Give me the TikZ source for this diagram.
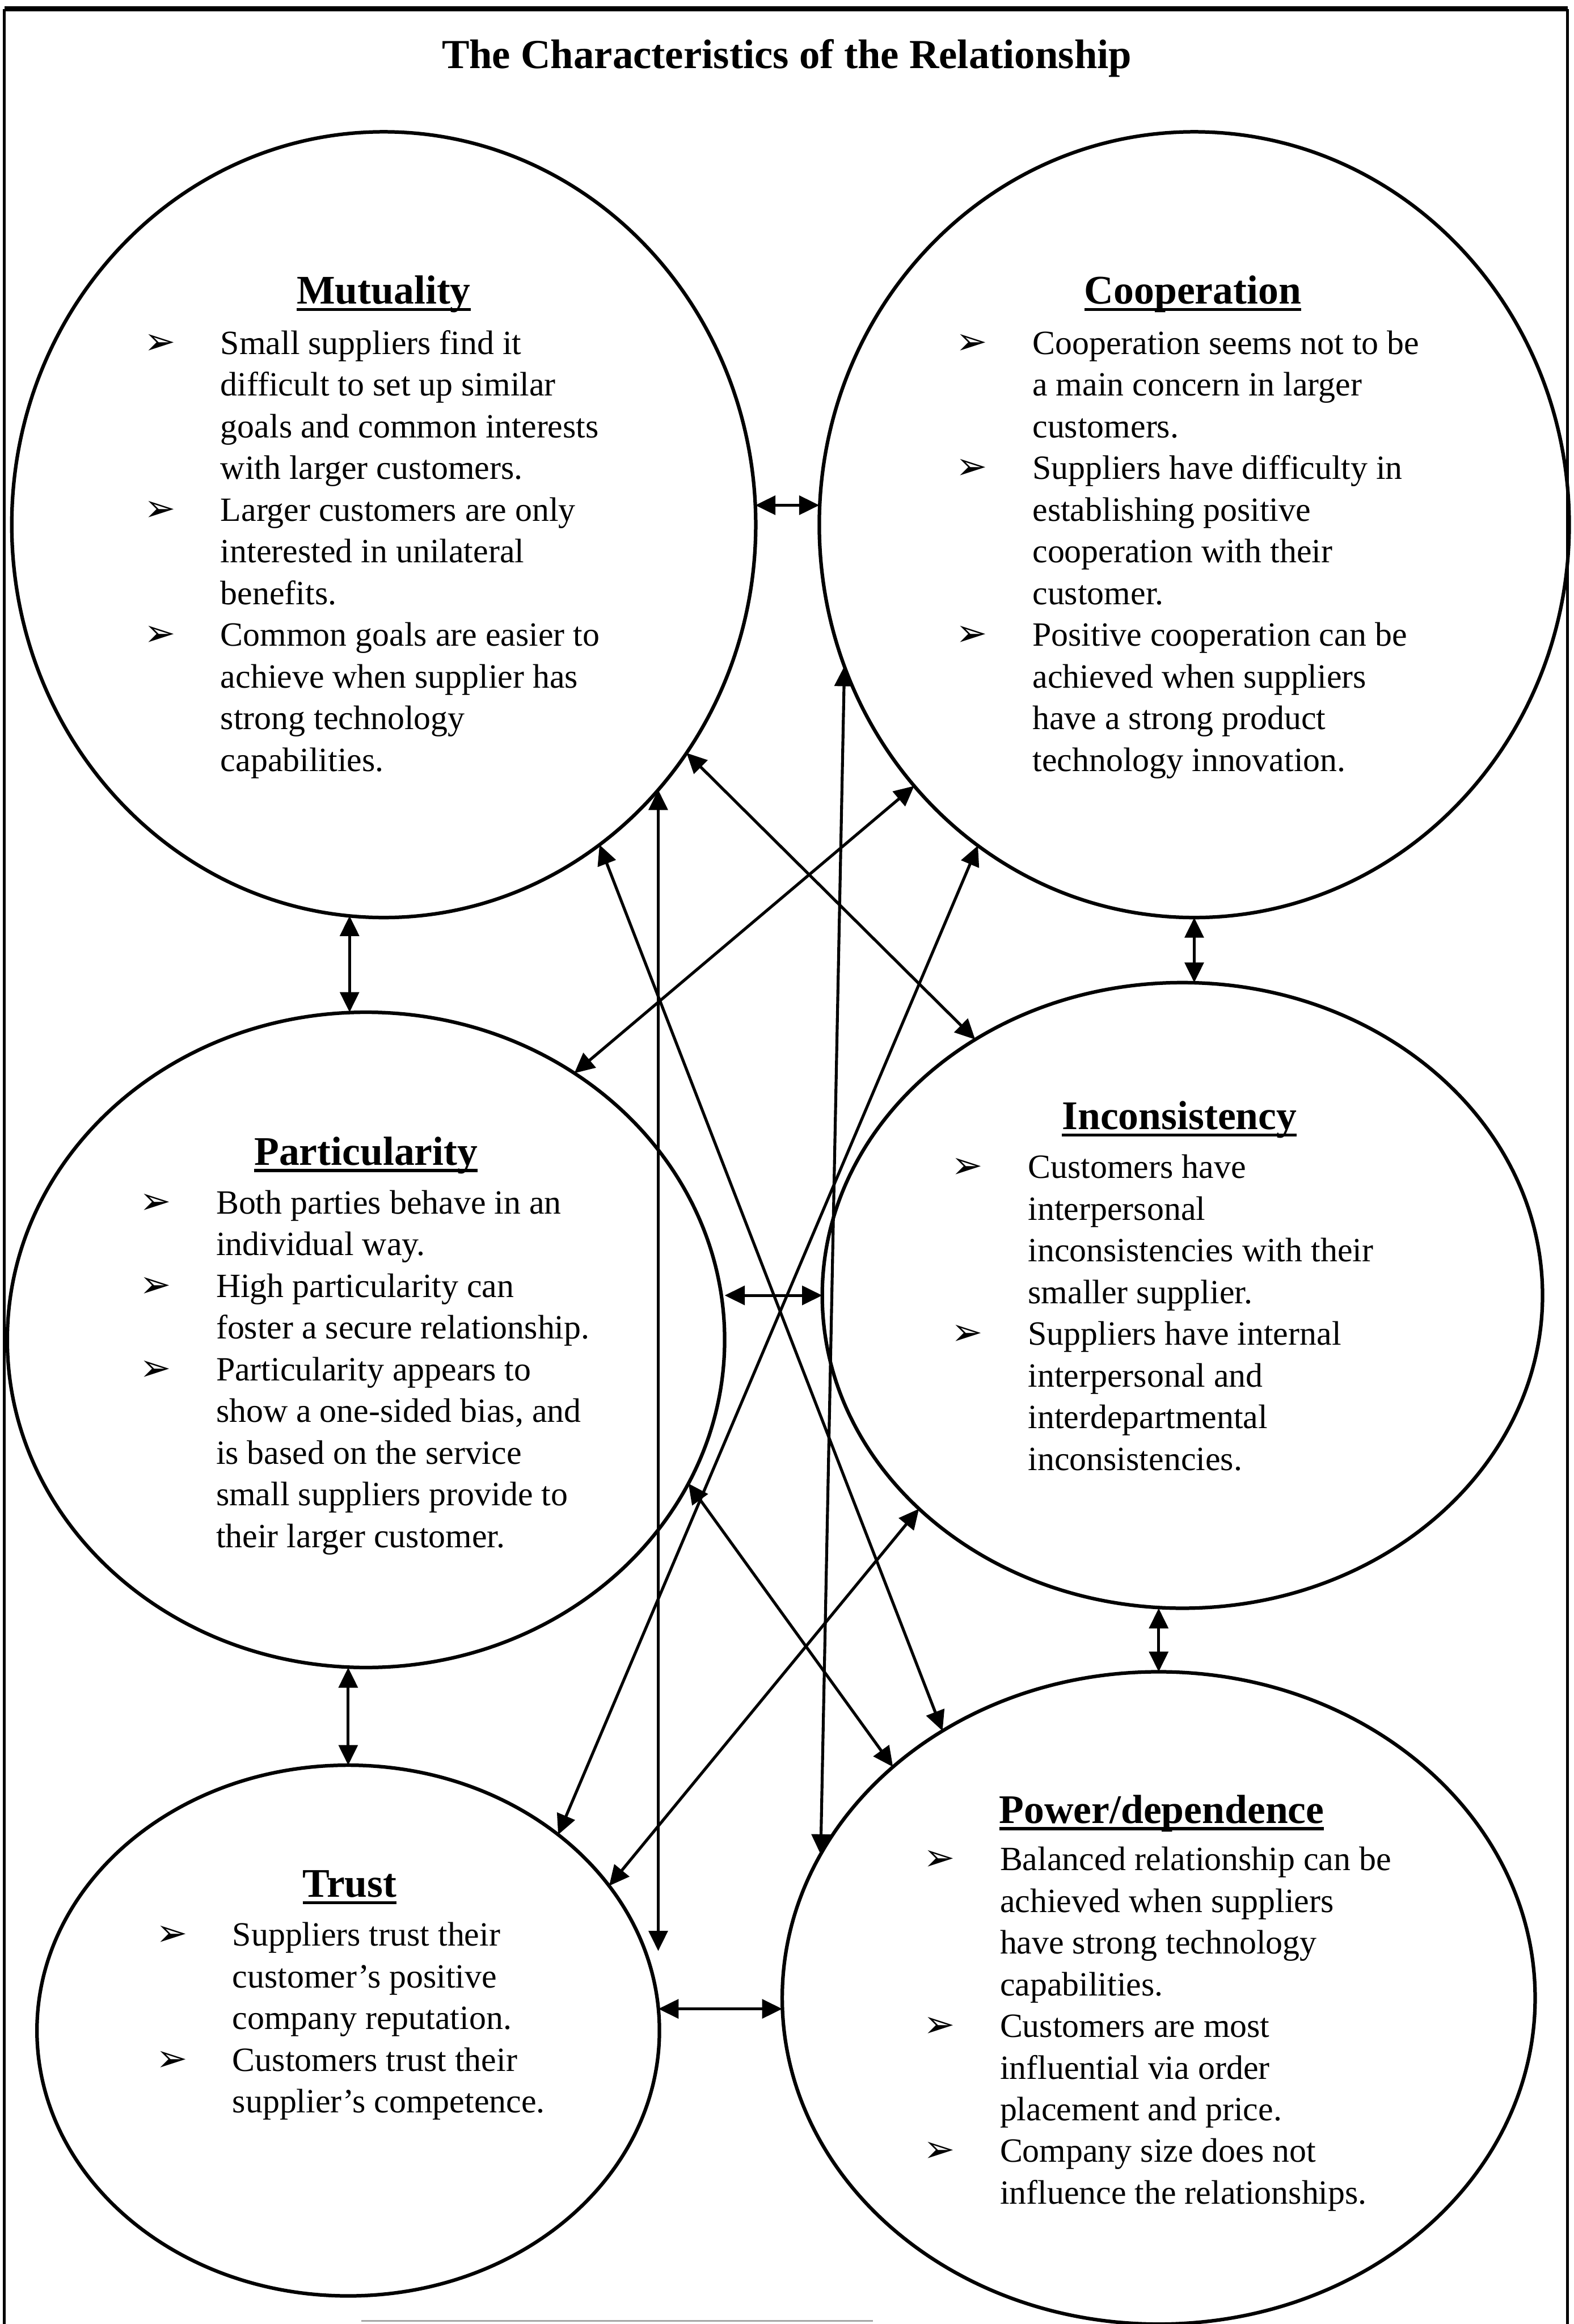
\documentclass[tikz,border=0pt]{standalone}
\usepackage{fontspec}
\setmainfont{Liberation Serif}
\newfontfamily\arrowfont{DejaVu Sans}
\usetikzlibrary{shapes.geometric,arrows.meta}
\newcommand{\bul}{\makebox[1.29cm][l]{\arrowfont\fontsize{18}{18}\selectfont ➢}}
\newcommand{\nob}{\hspace*{1.29cm}}
\newcommand{\uln}[1]{\setbox0=\hbox{#1}\rlap{\rule[-3.4pt]{\wd0}{1.5pt}}\box0}

\begin{document}
\begin{tikzpicture}[
    x=0.025cm, y=-0.025cm,
    circ/.style={draw, ellipse, line width=1.7pt, inner sep=0pt, outer sep=0pt},
    head/.style={anchor=base, inner sep=0pt, font=\fontsize{19.5}{23}\selectfont\bfseries},
    body/.style={anchor=base west, inner sep=0pt, font=\fontsize{16.3}{20}\selectfont},
    both/.style={{Triangle[length=0.34cm,width=0.32cm]}-{Triangle[length=0.34cm,width=0.32cm]}, line width=1.4pt}
  ]
  \useasboundingbox (0,0) rectangle (1062,1568);
  \draw[line width=1.3pt] (3,1568) -- (3,6) (1058,6) -- (1058,1568);
  \draw[line width=2.6pt] (3,6) -- (1058,6);
  \draw[gray!70, line width=0.8pt] (244,1566) -- (589,1566);

  \node (title) [anchor=base, font=\fontsize{19.8}{24}\selectfont\bfseries] at (531,46) {The Characteristics of the Relationship};

  \node (mut)   [circ, minimum width=12.55cm, minimum height=13.25cm] at (259,354) {};
  \node (coop)  [circ, minimum width=12.65cm, minimum height=13.25cm] at (806,354) {};
  \node (part)  [circ, minimum width=12.1cm, minimum height=11.05cm] at (247,904) {};
  \node (inc)   [circ, minimum width=12.15cm, minimum height=10.55cm] at (798,874) {};
  \node (trust) [circ, minimum width=10.5cm, minimum height=8.95cm] at (235,1370) {};
  \node (power) [circ, minimum width=12.7cm, minimum height=11cm] at (782,1348) {};

  \node (mut-h)   [head] at (259,205)  {\uln{Mutuality}};
  \node (coop-h)  [head] at (805,205)  {\uln{Cooperation}};
  \node (part-h)  [head] at (247,786)  {\uln{Particularity}};
  \node (inc-h)   [head] at (796,762)  {\uln{Inconsistency}};
  \node (trust-h) [head] at (236,1280) {\uln{Trust}};
  \node (power-h) [head] at (784,1230) {\uln{Power/dependence}};

  \node (mut-b) [body] at (97,239) {\begin{tabular}[t]{@{}l@{}}
    \bul Small suppliers find it\\ \nob difficult to set up similar\\ \nob goals and common interests\\ \nob with larger customers.\\
    \bul Larger customers are only\\ \nob interested in unilateral\\ \nob benefits.\\
    \bul Common goals are easier to\\ \nob achieve when supplier has\\ \nob strong technology\\ \nob capabilities.
  \end{tabular}};
  \node (coop-b) [body] at (645,239) {\begin{tabular}[t]{@{}l@{}}
    \bul Cooperation seems not to be\\ \nob a main concern in larger\\ \nob customers.\\
    \bul Suppliers have difficulty in\\ \nob establishing positive\\ \nob cooperation with their\\ \nob customer.\\
    \bul Positive cooperation can be\\ \nob achieved when suppliers\\ \nob have a strong product\\ \nob technology innovation.
  \end{tabular}};
  \node (part-b) [body] at (94,819) {\begin{tabular}[t]{@{}l@{}}
    \bul Both parties behave in an\\ \nob individual way.\\
    \bul High particularity can\\ \nob foster a secure relationship.\\
    \bul Particularity appears to\\ \nob show a one-sided bias, and\\ \nob is based on the service\\ \nob small suppliers provide to\\ \nob their larger customer.
  \end{tabular}};
  \node (inc-b) [body] at (642,795) {\begin{tabular}[t]{@{}l@{}}
    \bul Customers have\\ \nob interpersonal\\ \nob inconsistencies with their\\ \nob smaller supplier.\\
    \bul Suppliers have internal\\ \nob interpersonal and\\ \nob interdepartmental\\ \nob inconsistencies.
  \end{tabular}};
  \node (trust-b) [body] at (105,1313) {\begin{tabular}[t]{@{}l@{}}
    \bul Suppliers trust their\\ \nob customer’s positive\\ \nob company reputation.\\
    \bul Customers trust their\\ \nob supplier’s competence.
  \end{tabular}};
  \node (power-b) [body] at (623,1262) {\begin{tabular}[t]{@{}l@{}}
    \bul Balanced relationship can be\\ \nob achieved when suppliers\\ \nob have strong technology\\ \nob capabilities.\\
    \bul Customers are most\\ \nob influential via order\\ \nob placement and price.\\
    \bul Company size does not\\ \nob influence the relationships.
  \end{tabular}};

  \draw[both] (mut.3) -- (mut.3 -| coop.west);
  \draw[both] (mut.-95) -- (mut.-95 |- part.north);
  \draw[both] (coop.south) -- (coop.south |- inc.north);
  \draw[both] (inc.west -| part.east) -- (inc.west);
  \draw[both] (trust.north |- part.south) -- (trust.north);
  \draw[both] (power.north |- inc.south) -- (power.north);
  \draw[both] (trust.4) -- (trust.4 -| power.west);
  \draw[both] (mut.-56.4) -- (power.129.4);
  \draw[both] (mut.-37.2) -- (inc.129.6);
  \draw[both] (coop.223.3) -- (part.52.2);
  \draw[both] (coop.202.9) -- (power.157.1);
  \draw[both] (coop.236.3) -- (trust.43.8);
  \draw[both] (inc.219.7) -- (trust.29.9);
  \draw[both] (part.-24.1) -- (power.139.9);
  \draw[both] (mut.-44.1) -- (mut.-44.1 |- trust.15);
\end{tikzpicture}
\end{document}
